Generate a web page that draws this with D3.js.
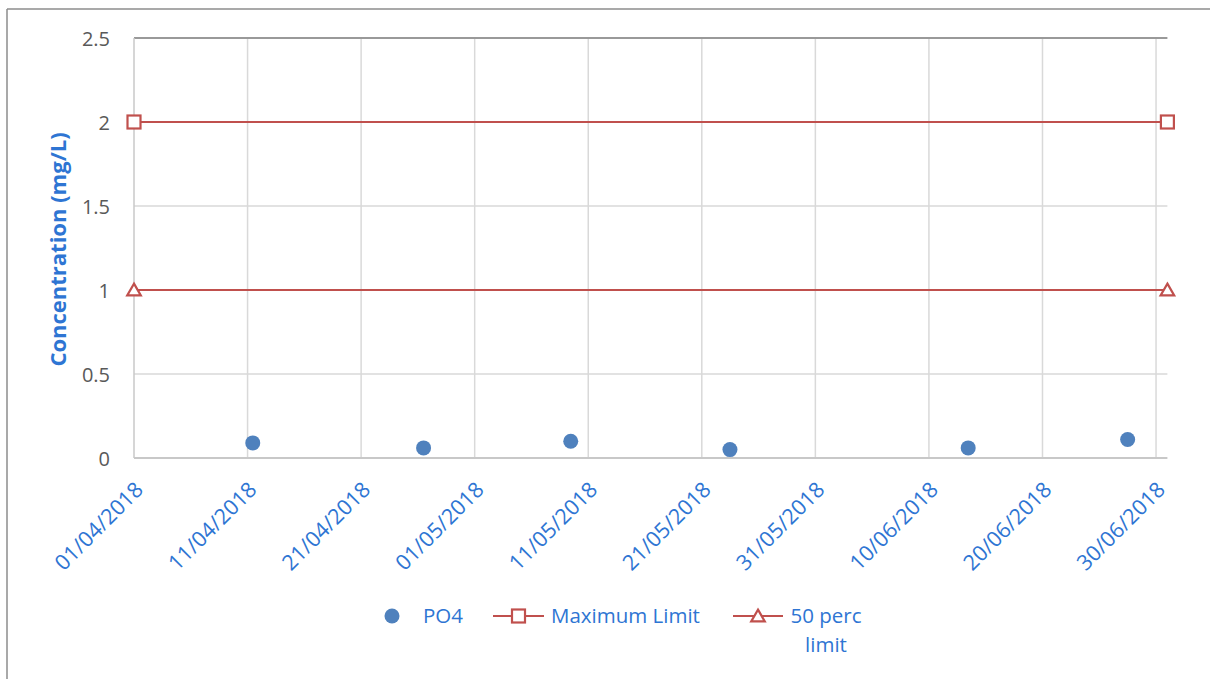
<!DOCTYPE html>
<html>
<head>
<meta charset="utf-8">
<script src="https://cdn.jsdelivr.net/npm/d3@7"></script>
<style>
  html, body { margin: 0; padding: 0; background: #fff; }
  svg { display: block; font-family: "Open Sans", "Noto Sans", sans-serif; }
</style>
</head>
<body>
<svg id="chart" width="1210" height="679"></svg>
<script>
// PO4 sampling results (mg/L)
const po4Dates = ["2018-04-11T11:00", "2018-04-26T12:00", "2018-05-09T11:00",
                  "2018-05-23T11:30", "2018-06-13T11:00", "2018-06-27T12:00"];
const po4Values = [0.09, 0.06, 0.10, 0.05, 0.06, 0.11];

// Limit lines, drawn across the whole period
const limitDates = ["2018-04-01", "2018-07-01"];
const maxLimitValues = [2, 2];
const halfLimitValues = [1, 1];

// Axis ticks
const xTickDates = ["2018-04-01", "2018-04-11", "2018-04-21", "2018-05-01", "2018-05-11",
                    "2018-05-21", "2018-05-31", "2018-06-10", "2018-06-20", "2018-06-30"];
const yTickValues = [0, 0.5, 1, 1.5, 2, 2.5];

const legendLabels = ["PO4", "Maximum Limit", "50 perc", "limit"];

const parse = s => new Date(s + (s.length === 10 ? "T00:00Z" : "Z"));
const fmt = d3.utcFormat("%d/%m/%Y");

const svg = d3.select("#chart");
const blue = "#4f81bd", red = "#c0504d", textBlue = "#2e75d3", grid = "#d9d9d9";

// outer chart frame (partly clipped by the page)
svg.append("line").attr("x1", 7).attr("x2", 7).attr("y1", 9).attr("y2", 679)
  .attr("stroke", "#8c8c8c").attr("stroke-width", 1.5);
svg.append("line").attr("x1", 7).attr("x2", 1210).attr("y1", 9).attr("y2", 9)
  .attr("stroke", "#8c8c8c").attr("stroke-width", 1.5);

const x = d3.scaleUtc().domain([parse("2018-04-01"), parse("2018-07-01")]).range([134, 1167.4]);
const y = d3.scaleLinear().domain([0, 2.5]).range([458, 38]);

// gridlines
svg.append("g").selectAll("line").data(xTickDates.slice(1)).join("line")
  .attr("x1", d => x(parse(d))).attr("x2", d => x(parse(d)))
  .attr("y1", y(0)).attr("y2", y(2.5))
  .attr("stroke", grid).attr("stroke-width", 1.5);
svg.append("g").selectAll("line").data(yTickValues.slice(1, -1)).join("line")
  .attr("x1", x.range()[0]).attr("x2", x.range()[1])
  .attr("y1", d => y(d)).attr("y2", d => y(d))
  .attr("stroke", grid).attr("stroke-width", 1.5);

// plot frame: top edge, left and bottom axes
svg.append("line").attr("x1", 134).attr("x2", x.range()[1]).attr("y1", y(2.5)).attr("y2", y(2.5))
  .attr("stroke", "#999").attr("stroke-width", 2);
svg.append("line").attr("x1", 134).attr("x2", 134).attr("y1", y(0)).attr("y2", y(2.5))
  .attr("stroke", "#c8c8c8").attr("stroke-width", 1.5);
svg.append("line").attr("x1", 134).attr("x2", x.range()[1]).attr("y1", y(0)).attr("y2", y(0))
  .attr("stroke", "#c8c8c8").attr("stroke-width", 2);

// y axis labels
const yAxis = d3.axisLeft(y).tickValues(yTickValues).tickSize(0).tickPadding(0)
  .tickFormat(d => d3.format("")(d));
const yg = svg.append("g").attr("transform", "translate(110,0)").call(yAxis);
yg.select(".domain").remove();
yg.selectAll("text").attr("fill", "#595959").attr("font-size", 20).attr("dy", "0.35em")
  .style("font-family", "'Open Sans', sans-serif");

// x axis labels, rotated
const xAxis = d3.axisBottom(x).tickValues(xTickDates.map(parse)).tickSize(0).tickFormat(fmt);
const xg = svg.append("g").attr("transform", `translate(0,${y(0)})`).call(xAxis);
xg.select(".domain").remove();
xg.selectAll("text")
  .attr("fill", textBlue).attr("font-size", 21.5)
  .attr("text-anchor", "end").attr("dy", 0).attr("y", 0)
  .attr("transform", "translate(10,33) rotate(-45)")
  .style("font-family", "'Open Sans', sans-serif");

// y axis title
svg.append("text")
  .attr("transform", "translate(66,249.5) rotate(-90)")
  .attr("text-anchor", "middle")
  .attr("fill", textBlue).attr("font-weight", "bold").attr("font-size", 22)
  .text("Concentration (mg/L)");

// limit lines
const line = d3.line().x(d => x(parse(d[0]))).y(d => y(d[1]));
const maxData = limitDates.map((d, i) => [d, maxLimitValues[i]]);
const halfData = limitDates.map((d, i) => [d, halfLimitValues[i]]);
svg.append("path").datum(maxData).attr("d", line).attr("fill", "none").attr("stroke", red).attr("stroke-width", 2.2);
svg.append("path").datum(halfData).attr("d", line).attr("fill", "none").attr("stroke", red).attr("stroke-width", 2.2);

const sq = 13, tri = d3.symbol().type(d3.symbolTriangle).size(80);
svg.append("g").selectAll("rect").data(maxData).join("rect")
  .attr("x", d => x(parse(d[0])) - sq / 2).attr("y", d => y(d[1]) - sq / 2)
  .attr("width", sq).attr("height", sq)
  .attr("fill", "#fff").attr("stroke", red).attr("stroke-width", 2.2);
svg.append("g").selectAll("path").data(halfData).join("path")
  .attr("d", tri)
  .attr("transform", d => `translate(${x(parse(d[0]))},${y(d[1]) + 1.5})`)
  .attr("fill", "#fff").attr("stroke", red).attr("stroke-width", 2.2);

// PO4 samples
svg.append("g").selectAll("circle").data(po4Dates.map((d, i) => [d, po4Values[i]])).join("circle")
  .attr("cx", d => x(parse(d[0]))).attr("cy", d => y(d[1]))
  .attr("r", 7.5).attr("fill", blue);

// legend
const lg = svg.append("g").attr("font-size", 20.5).attr("fill", textBlue);
lg.append("circle").attr("cx", 392).attr("cy", 616).attr("r", 7.5).attr("fill", blue);
lg.append("text").attr("x", 423).attr("y", 616).attr("dy", "0.35em").text(legendLabels[0]);

lg.append("line").attr("x1", 493).attr("x2", 544).attr("y1", 616).attr("y2", 616)
  .attr("stroke", red).attr("stroke-width", 2.2);
lg.append("rect").attr("x", 518.5 - sq / 2).attr("y", 616 - sq / 2).attr("width", sq).attr("height", sq)
  .attr("fill", "#fff").attr("stroke", red).attr("stroke-width", 2.2);
lg.append("text").attr("x", 551).attr("y", 616).attr("dy", "0.35em").text(legendLabels[1]);

lg.append("line").attr("x1", 733).attr("x2", 783).attr("y1", 616).attr("y2", 616)
  .attr("stroke", red).attr("stroke-width", 2.2);
lg.append("path").attr("d", tri).attr("transform", "translate(758,617.5)")
  .attr("fill", "#fff").attr("stroke", red).attr("stroke-width", 2.2);
lg.append("text").attr("x", 826).attr("y", 616).attr("dy", "0.35em").attr("text-anchor", "middle").text(legendLabels[2]);
lg.append("text").attr("x", 826).attr("y", 645).attr("dy", "0.35em").attr("text-anchor", "middle").text(legendLabels[3]);
</script>
</body>
</html>
